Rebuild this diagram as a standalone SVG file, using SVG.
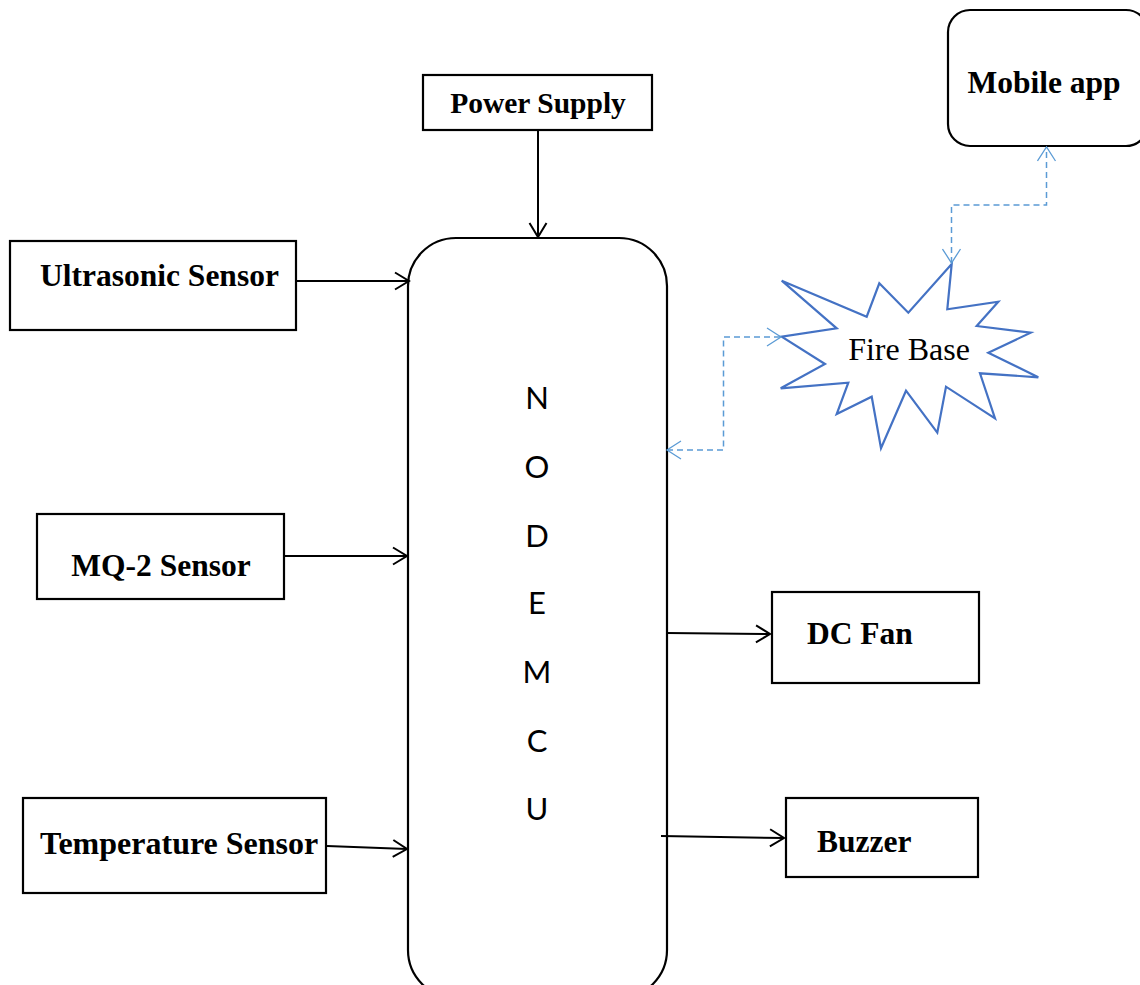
<svg xmlns="http://www.w3.org/2000/svg" width="1140" height="985" viewBox="0 0 1140 985">
<style>
.box{fill:#fff;stroke:#000;stroke-width:2.2}
.lbl{font-family:"Liberation Serif","Times New Roman",serif;font-weight:bold;font-size:31.5px;fill:#000}
.mcu{font-family:Lato,"Open Sans","Liberation Sans",sans-serif;font-size:31px;fill:#000;text-anchor:middle}
.conn{fill:none;stroke:#000;stroke-width:2}
.dash{fill:none;stroke:#5b9bd5;stroke-width:1.5;stroke-dasharray:6,4}
</style>
<defs>
<marker id="arr" markerWidth="20" markerHeight="20" refX="16" refY="10" orient="auto" markerUnits="userSpaceOnUse">
<path d="M2,1.5 L16,10 L2,18.5" fill="none" stroke="#000" stroke-width="2"/>
</marker>
<marker id="barr" markerWidth="20" markerHeight="20" refX="16" refY="10" orient="auto-start-reverse" markerUnits="userSpaceOnUse">
<path d="M2,1 L16,10 L2,19" fill="none" stroke="#5b9bd5" stroke-width="1.3"/>
</marker>
</defs>
<g id="power-supply">
<rect class="box" x="423" y="75" width="229" height="55"/>
<text class="lbl" x="538" y="113" text-anchor="middle" style="font-size:29.5px">Power Supply</text>
</g>
<g id="nodemcu">
<rect class="box" x="408" y="238" width="259" height="760" rx="48"/>
<text class="mcu" x="537" y="409">N</text>
<text class="mcu" x="537" y="478">O</text>
<text class="mcu" x="537" y="546.5">D</text>
<text class="mcu" x="537" y="614">E</text>
<text class="mcu" x="537" y="683">M</text>
<text class="mcu" x="537" y="751.5">C</text>
<text class="mcu" x="537" y="820">U</text>
</g>
<g id="ultrasonic">
<rect class="box" x="10" y="241" width="286" height="89"/>
<text class="lbl" x="40" y="286">Ultrasonic Sensor</text>
</g>
<g id="mq2">
<rect class="box" x="37" y="514" width="247" height="85"/>
<text class="lbl" x="161" y="576" text-anchor="middle">MQ-2 Sensor</text>
</g>
<g id="temperature">
<rect class="box" x="23" y="798" width="303" height="95"/>
<text class="lbl" x="40" y="854" style="font-size:32px">Temperature Sensor</text>
</g>
<g id="dc-fan">
<rect class="box" x="772" y="592" width="207" height="91"/>
<text class="lbl" x="807" y="644">DC Fan</text>
</g>
<g id="buzzer">
<rect class="box" x="786" y="798" width="192" height="79"/>
<text class="lbl" x="817" y="852">Buzzer</text>
</g>
<g id="firebase">
<polygon points="781.7,280.7 866.7,316.7 879.3,283.3 908.3,312.7 951.7,264 947.3,309.3 998.3,301.7 976.7,326 1030.7,332.7 988.3,352.7 1038.3,377.3 980,373.3 995,418.3 946,386.7 937.3,432.7 906,390.7 881,448.3 871.7,396.7 836.7,414 848.3,382.7 780.7,388.3 825,364 781.7,336.7 836.7,328.3" fill="#fff" stroke="#4472c4" stroke-width="2.2" stroke-linejoin="miter"/>
<text x="909" y="360" text-anchor="middle" font-family="'Liberation Serif','Times New Roman',serif" font-size="32" fill="#000">Fire Base</text>
</g>
<g id="mobile-app">
<rect class="box" x="948" y="10" width="200" height="136" rx="22"/>
<text class="lbl" x="1044" y="93" text-anchor="middle">Mobile app</text>
</g>
<g id="connectors">
<line class="conn" x1="538" y1="131" x2="538" y2="237" marker-end="url(#arr)"/>
<line class="conn" x1="297" y1="281" x2="409" y2="281" marker-end="url(#arr)"/>
<line class="conn" x1="284" y1="556" x2="407" y2="556" marker-end="url(#arr)"/>
<line class="conn" x1="327" y1="846" x2="407" y2="849" marker-end="url(#arr)"/>
<line class="conn" x1="667" y1="633" x2="770" y2="634" marker-end="url(#arr)"/>
<line class="conn" x1="661" y1="836" x2="784" y2="838" marker-end="url(#arr)"/>
<polyline class="dash" points="667,450 723.5,450 723.5,337 781,337" marker-start="url(#barr)" marker-end="url(#barr)"/>
<polyline class="dash" points="951.5,263 951.5,205 1046.5,205 1046.5,147" marker-start="url(#barr)" marker-end="url(#barr)"/>
</g>
</svg>
